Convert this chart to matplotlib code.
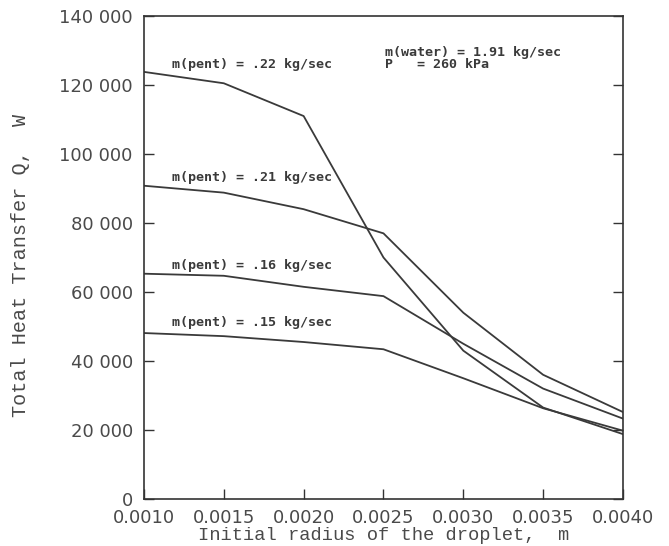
import matplotlib
matplotlib.use("Agg")
import matplotlib.pyplot as plt

# initial droplet radius, m
radius = [0.0010, 0.0015, 0.0020, 0.0025, 0.0030, 0.0035, 0.0040]

# total heat transfer Q (W) for each pentane mass flow
q_022 = [123800, 120500, 111000, 70000, 43000, 26500, 18800]
q_021 = [90800, 88800, 84000, 77000, 54000, 36000, 25200]
q_016 = [65300, 64700, 61500, 58800, 45000, 32000, 23300]
q_015 = [48100, 47200, 45500, 43400, 35000, 26300, 19800]

series = [q_022, q_021, q_016, q_015]
labels = ["m(pent) = .22 kg/sec", "m(pent) = .21 kg/sec",
          "m(pent) = .16 kg/sec", "m(pent) = .15 kg/sec"]
label_y = [125800, 93300, 67800, 51300]

x_ticks = [0.0010, 0.0015, 0.0020, 0.0025, 0.0030, 0.0035, 0.0040]
y_ticks = [0, 20000, 40000, 60000, 80000, 100000, 120000, 140000]

fig = plt.figure(figsize=(6.69, 5.46), dpi=100)
ax = fig.add_axes([0.2152, 0.0861, 0.716, 0.8846])

for q in series:
    ax.plot(radius, q, color="#3a3a3a", linewidth=1.3)

mono = dict(family="DejaVu Sans Mono", fontsize=9.6, fontweight="bold", color="#3a3a3a")
for text, ly in zip(labels, label_y):
    ax.text(0.001175, ly, text, va="center", ha="left", **mono)

ax.text(0.00251, 129300, "m(water) = 1.91 kg/sec", va="center", ha="left", **mono)
ax.text(0.00251, 125800, "P   = 260 kPa", va="center", ha="left", **mono)

ax.set_xlim(0.0010, 0.0040)
ax.set_ylim(0, 140000)
ax.set_xticks(x_ticks)
ax.set_xticklabels([f"{v:.4f}" for v in x_ticks])
ax.set_yticks(y_ticks)
ax.set_yticklabels([f"{v:,}".replace(",", " ") for v in y_ticks])

ax.tick_params(direction="in", length=7, width=1, color="#333333",
               labelsize=13, labelcolor="#4a4a4a", right=True)
ax.tick_params(axis="x", pad=7)
ax.tick_params(axis="y", pad=8)
for sp in ax.spines.values():
    sp.set_color("#333333")
    sp.set_linewidth(1.2)

ax.set_xlabel("Initial radius of the droplet,  m", family="Liberation Mono",
              fontsize=13.5, color="#4a4a4a", labelpad=0)
ax.set_ylabel("Total Heat Transfer Q,  W", family="Liberation Mono",
              fontsize=14.5, color="#4a4a4a")
ax.yaxis.set_label_coords(-0.238, 0.484)

fig.savefig("out.png", dpi=100)
